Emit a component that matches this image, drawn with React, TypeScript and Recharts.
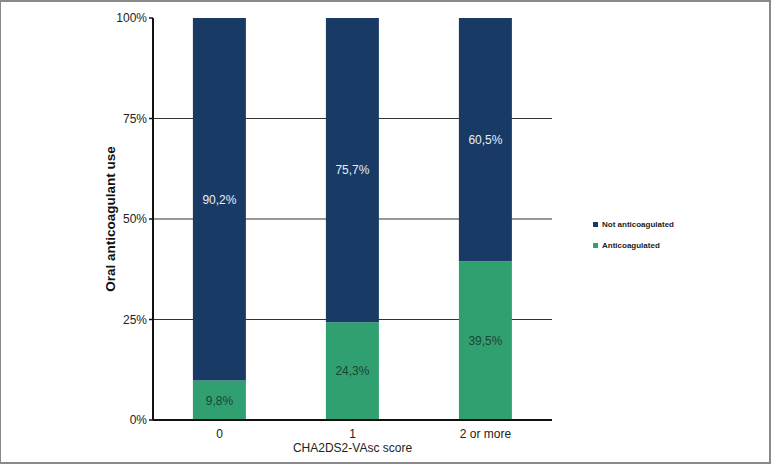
import React from 'react'
import { BarChart, Bar, XAxis, YAxis, CartesianGrid, Legend, LabelList, Label } from 'recharts'

const categories = ['0', '1', '2 or more']
const anticoagulated = [9.8, 24.3, 39.5]
const notAnticoagulated = [90.2, 75.7, 60.5]
const yTicks = [0, 25, 50, 75, 100]
const gridValues = [25, 50, 75]
const categoryEdges = [0, 1, 2, 3]

const NAVY = '#1a3a66'
const GREEN = '#30a071'
const FONT = '"Liberation Sans Narrow", "Liberation Sans", Arial, sans-serif'

const data = categories.map((c, i) => ({
  score: c,
  anti: anticoagulated[i],
  notAnti: notAnticoagulated[i],
}))

const pct = (v: any) => Number(v).toFixed(1).replace('.', ',') + '%'

const legendItems = [
  { label: 'Not anticoagulated', color: NAVY },
  { label: 'Anticoagulated', color: GREEN },
]

function LegendBox() {
  return (
    <div style={{ fontFamily: FONT, fontSize: 8, fontWeight: 700, color: '#222' }}>
      {legendItems.map((it) => (
        <div key={it.label} style={{ display: 'flex', alignItems: 'center', height: 21 }}>
          <span style={{ width: 5, height: 5, background: it.color, marginRight: 4, display: 'inline-block' }} />
          {it.label}
        </div>
      ))}
    </div>
  )
}

export default function App() {
  return (
    <div style={{ position: 'absolute', left: 0, top: 0, width: 771, height: 464, background: '#fff' }}>
      <BarChart
        width={771}
        height={464}
        data={data}
        margin={{ top: 18, right: 219, left: 95, bottom: 0 }}
        barCategoryGap="30%"
        style={{ fontFamily: FONT }}
      >
        <CartesianGrid vertical={false} horizontalValues={gridValues} stroke="#333" strokeWidth={1} yAxisId="y" />
        <XAxis
          xAxisId="z_cat"
          dataKey="score"
          height={40}
          axisLine={false}
          tickLine={false}
          tickSize={0}
          tickMargin={5}
          tick={{ fontSize: 12, fill: '#222' }}
        >
          <Label
            content={({ viewBox }: any) => (
              <text
                x={viewBox.x + viewBox.width / 2}
                y={viewBox.y + 28}
                textAnchor="middle"
                fontSize={12}
                fill="#222"
                fontFamily={FONT}
              >
                CHA2DS2-VAsc score
              </text>
            )}
          />
        </XAxis>
        <XAxis
          xAxisId="a_edges"
          type="number"
          domain={[0, 3]}
          ticks={categoryEdges}
          allowDataOverflow
          height={4}
          tickSize={4}
          tick={false}
          stroke="#111"
          axisLine={{ stroke: '#111', strokeWidth: 2 }}
          tickLine={{ stroke: '#111', strokeWidth: 1.5 }}
        />
        <YAxis
          yAxisId="y"
          domain={[0, 100]}
          ticks={yTicks}
          width={58}
          tickFormatter={(v) => v + '%'}
          tickSize={4}
          tickMargin={2}
          tick={{ fontSize: 12, fill: '#222' }}
          axisLine={{ stroke: '#111', strokeWidth: 2 }}
          tickLine={{ stroke: '#111', strokeWidth: 1.5 }}
        >
          <Label
            content={({ viewBox }: any) => {
              const cx = viewBox.x + 15
              const cy = viewBox.y + viewBox.height / 2
              return (
                <text
                  x={cx}
                  y={cy}
                  transform={`rotate(-90 ${cx} ${cy})`}
                  textAnchor="middle"
                  dominantBaseline="central"
                  fontSize={13.5}
                  fontWeight={700}
                  fill="#111"
                  fontFamily={FONT}
                >
                  Oral anticoagulant use
                </text>
              )
            }}
          />
        </YAxis>
        <Legend
          layout="horizontal"
          verticalAlign="middle"
          content={<LegendBox />}
          wrapperStyle={{ left: 593, top: 214, width: 'auto' }}
        />
        <Bar dataKey="anti" stackId="a" xAxisId="z_cat" yAxisId="y" fill={GREEN} isAnimationActive={false}>
          <LabelList dataKey="anti" position="center" formatter={pct} fill="#1d4434" fontSize={12} />
        </Bar>
        <Bar dataKey="notAnti" stackId="a" xAxisId="z_cat" yAxisId="y" fill={NAVY} isAnimationActive={false}>
          <LabelList dataKey="notAnti" position="center" formatter={pct} fill="#e6eef7" fontSize={12} />
        </Bar>
      </BarChart>
      <div
        style={{
          position: 'absolute',
          inset: 0,
          border: '2px solid #8a8a8a',
          borderLeftWidth: 1,
          pointerEvents: 'none',
        }}
      />
    </div>
  )
}
